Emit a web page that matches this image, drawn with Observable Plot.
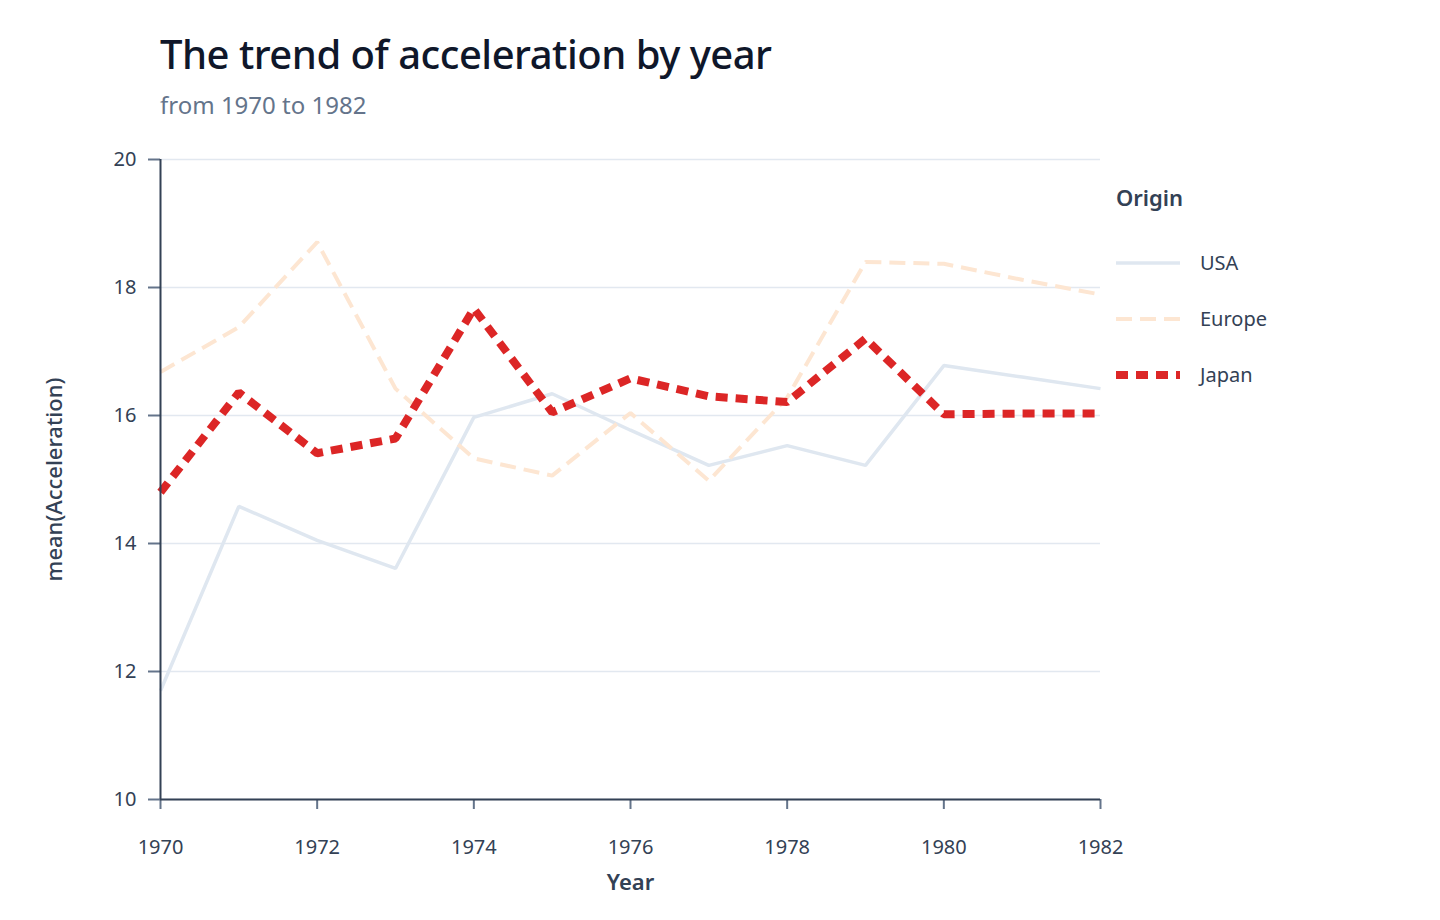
<!DOCTYPE html>
<html>
<head>
<meta charset="utf-8">
<script src="https://cdn.jsdelivr.net/npm/d3@7"></script>
<script src="https://cdn.jsdelivr.net/npm/@observablehq/plot@0.6"></script>
<style>
  html, body { margin: 0; padding: 0; background: #fff; }
  body { width: 1440px; height: 920px; position: relative; overflow: hidden; font-family: "Noto Sans", sans-serif; }
  #title { position: absolute; left: 160px; top: 26px; font-size: 40px; font-weight: 500; color: #0f172a; letter-spacing: -0.5px; }
  #subtitle { position: absolute; left: 160px; top: 88px; font-size: 24px; color: #64748b; }
  #chart { position: absolute; left: 0; top: 130px; }
  #legend { position: absolute; left: 1116px; top: 180px; }
</style>
</head>
<body>
<div id="title">The trend of acceleration by year</div>
<div id="subtitle">from 1970 to 1982</div>
<div id="chart"></div>
<svg id="legend" width="220" height="230"></svg>
<script>
// Mean acceleration per model year, by origin
const years = [1970, 1971, 1972, 1973, 1974, 1975, 1976, 1977, 1978, 1979, 1980, 1981, 1982];
const usa    = [11.70, 14.58, 14.05, 13.61, 15.97, 16.34, 15.77, 15.22, 15.53, 15.22, 16.78, 16.60, 16.42];
const europe = [16.68, 17.38, 18.71, 16.42, 15.33, 15.06, 16.04, 14.98, 16.28, 18.40, 18.37, 18.12, 17.89];
const japan  = [14.80, 16.36, 15.41, 15.64, 17.67, 16.05, 16.58, 16.30, 16.21, 17.20, 16.02, 16.03, 16.03];
const origins = ["USA", "Europe", "Japan"];
const xTicks = [1970, 1972, 1974, 1976, 1978, 1980, 1982];
const yTicks = [10, 12, 14, 16, 18, 20];

const seriesByOrigin = {USA: usa, Europe: europe, Japan: japan};
const rows = origins.flatMap(origin =>
  years.map((year, i) => ({origin, year, value: seriesByOrigin[origin][i]}))
);

const styles = {
  USA:    {stroke: "#dfe7f0", strokeWidth: 3.5, strokeDasharray: null},
  Europe: {stroke: "#fde6d2", strokeWidth: 4,   strokeDasharray: "16 8"},
  Japan:  {stroke: "#dc2626", strokeWidth: 8,   strokeDasharray: "12 8"}
};

const lineFor = origin => Plot.line(rows.filter(d => d.origin === origin), {
  x: "year", y: "value",
  stroke: styles[origin].stroke,
  strokeWidth: styles[origin].strokeWidth,
  strokeDasharray: styles[origin].strokeDasharray,
  strokeLinecap: "butt",
  strokeLinejoin: "miter"
});

const chart = Plot.plot({
  width: 1440,
  height: 790,
  marginTop: 29,
  marginLeft: 160,
  marginRight: 340,
  marginBottom: 121,
  style: {fontFamily: "Noto Sans, sans-serif", fontSize: "20px", color: "#334155", background: "#fff"},
  x: {domain: [1970, 1982]},
  y: {domain: [10, 20]},
  marks: [
    Plot.gridY(yTicks, {stroke: "#e2e8f0", strokeOpacity: 1, strokeWidth: 1.5}),
    lineFor("USA"),
    lineFor("Europe"),
    lineFor("Japan"),
    Plot.axisX(xTicks, {
      tickFormat: d => String(d), tickSize: 10, tickPadding: 30,
      stroke: "#64748b", strokeWidth: 2, fill: "#334155", fontSize: 20,
      label: "Year", labelAnchor: "center", labelArrow: "none", labelOffset: 90
    }),
    Plot.axisY(yTicks, {
      tickFormat: d => String(d), tickSize: 12, tickPadding: 12,
      stroke: "#64748b", strokeWidth: 2, fill: "#334155", fontSize: 20,
      label: "mean(Acceleration)", labelAnchor: "center", labelArrow: "none", labelOffset: 114
    }),
    Plot.ruleY([10], {stroke: "#334155", strokeWidth: 2}),
    Plot.ruleX([1970], {stroke: "#334155", strokeWidth: 2})
  ]
});

// Axis titles slightly heavier than tick labels
d3.select(chart).selectAll("g[aria-label='x-axis label'] text")
  .attr("font-size", 22).attr("font-weight", 600).attr("fill", "#334155");
d3.select(chart).selectAll("g[aria-label='y-axis label'] text")
  .attr("font-size", 22).attr("font-weight", 500).attr("fill", "#334155");

document.getElementById("chart").appendChild(chart);

// Legend for the three origins
const legend = d3.select("#legend");
legend.append("text").attr("x", 0).attr("y", 26)
  .attr("font-size", 22).attr("font-weight", 600).attr("fill", "#334155")
  .text("Origin");
origins.forEach((origin, i) => {
  const cy = 83 + i * 56;
  const s = styles[origin];
  legend.append("line")
    .attr("x1", 0).attr("x2", 64).attr("y1", cy).attr("y2", cy)
    .attr("stroke", s.stroke).attr("stroke-width", s.strokeWidth)
    .attr("stroke-dasharray", s.strokeDasharray);
  legend.append("text").attr("x", 84).attr("y", cy).attr("dy", "0.35em")
    .attr("font-size", 20).attr("fill", "#334155").text(origin);
});
</script>
</body>
</html>
